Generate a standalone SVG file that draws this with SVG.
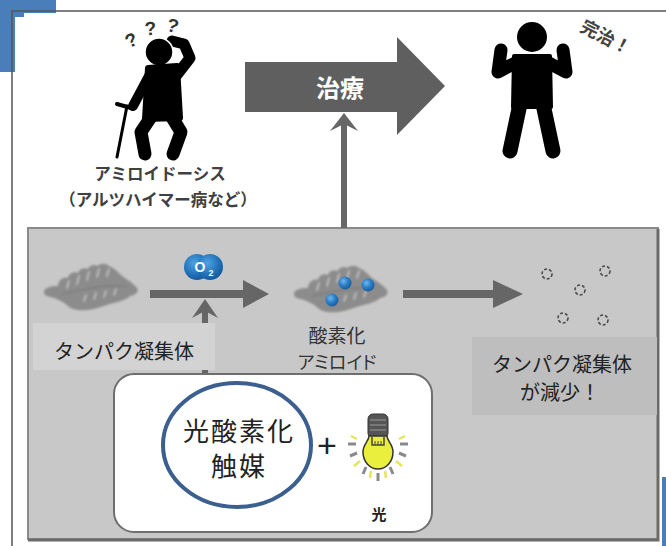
<svg xmlns="http://www.w3.org/2000/svg" width="666" height="546" viewBox="0 0 666 546">
  <style>
    .jp { font-family: "Noto Sans CJK JP", "Noto Sans", sans-serif; }
    .bold { font-weight: 700; }
    .label { fill: #404040; }
    .body { fill: #222; }
    .prop { font-feature-settings: "palt" 1; }
    .arrowline { stroke: #666; fill: none; }
    .arrowhead { fill: #666; }
    .fig { fill: #000; }
    .limb { stroke: #000; fill: none; stroke-linecap: round; stroke-linejoin: round; }
    .ray-g { stroke: #8a8a8a; stroke-width: 3; stroke-linecap: butt; }
    .ray-y { stroke: #e4e65a; stroke-width: 2.5; stroke-linecap: butt; }
    .dot { fill: none; stroke: #4a4a4a; stroke-width: 1.6; stroke-dasharray: 3 2; }
  </style>
  <defs>
    <filter id="soft" x="-10%" y="-10%" width="120%" height="120%">
      <feGaussianBlur stdDeviation="0.8"/>
    </filter>
    <radialGradient id="sphere" cx="0.38" cy="0.35" r="0.7">
      <stop offset="0" stop-color="#6fb8ee"/>
      <stop offset="0.5" stop-color="#2b7fc8"/>
      <stop offset="1" stop-color="#1a5894"/>
    </radialGradient>
    <radialGradient id="oxy" cx="0.4" cy="0.35" r="0.75">
      <stop offset="0" stop-color="#4fa2e2"/>
      <stop offset="0.6" stop-color="#2070b8"/>
      <stop offset="1" stop-color="#174f8a"/>
    </radialGradient>
    <!-- coiled protein aggregate -->
    <g id="fibril">
      <g filter="url(#soft)">
        <path d="M2,28 C2,23 10,22 16,22 C16,16 22,12 26,14 C27,9 32,7 36,9 C37,5 42,3 46,5 C47,1 53,0 56,2 C58,-1 64,-1 67,2 C72,4 76,8 80,12 C86,16 92,20 95,24 C97,28 94,31 88,32 C84,36 76,38 68,40 C60,42 54,45 46,46 C38,47 30,46 26,42 C22,38 14,34 8,33 C4,32 2,31 2,28 Z" fill="#8c8c8c"/>
        <g stroke="#c2c2c2" stroke-width="1.6" fill="none" stroke-linecap="round">
          <path d="M27,17 L25,24"/>
          <path d="M37,12 L35,20"/>
          <path d="M47,8 L45,16"/>
          <path d="M57,5 L55,13"/>
          <path d="M67,5 L65,12"/>
          <path d="M44,31 L42,37"/>
          <path d="M54,29 L52,35"/>
          <path d="M64,27 L62,33"/>
          <path d="M74,25 L72,31"/>
        </g>
        <g stroke="#7a7a7a" stroke-width="1.2" fill="none">
          <path d="M20,30 C40,26 60,20 84,22"/>
        </g>
      </g>
    </g>
  </defs>

  <!-- page frame with corner tabs -->
  <path d="M0,0 H56 V13 H24 V17 H15 V72 H0 Z" fill="#4a7ebb"/>
  <rect x="662" y="477" width="4" height="69" fill="#4a7ebb"/>
  <path d="M12,546 V11 H666" fill="none" stroke="#555" stroke-width="1.5"/>

  <!-- patient with amyloidosis -->
  <g id="patient">
    <path class="limb" stroke-width="11" d="M176,76 L190,58 L184,44 L172,41"/>
    <circle cx="159" cy="52" r="14" class="fig" stroke="#fff" stroke-width="1.5"/>
    <path class="fig" d="M148,68 L177,66 L180,118 L145,119 Z" stroke="#000" stroke-width="6" stroke-linejoin="round"/>
    <path class="limb" stroke-width="10" d="M149,76 L133,106"/>
    <path class="limb" stroke-width="13" d="M153,114 L141,132 L145,154"/>
    <path class="limb" stroke-width="13" d="M170,114 L181,132 L173,154"/>
    <path d="M127,106 L117,157" stroke="#000" stroke-width="3" stroke-linecap="round"/>
    <path d="M117,104 L131,108" stroke="#000" stroke-width="4" stroke-linecap="round"/>
    <g class="bold" font-family="Liberation Sans, sans-serif" font-size="19" fill="#333">
      <text transform="translate(134,46) rotate(-25)" text-anchor="middle">?</text>
      <text transform="translate(151,35) rotate(-5)" text-anchor="middle">?</text>
      <text transform="translate(171,32) rotate(15)" text-anchor="middle">?</text>
    </g>
    <text class="jp bold label" x="160" y="180" font-size="16.5" text-anchor="middle">アミロイドーシス</text>
    <text class="jp bold label" x="158" y="206" font-size="16.5" text-anchor="middle">（アルツハイマー病など）</text>
  </g>

  <!-- treatment arrow -->
  <g id="treatment">
    <path d="M245,62 H397 V37 L445,86 L397,135 V112 H245 Z" fill="#5f5f5f"/>
    <text class="jp bold" x="340" y="97" font-size="24" fill="#fff" text-anchor="middle">治療</text>
  </g>

  <!-- cured person -->
  <g id="cured">
    <circle cx="532" cy="37" r="15" class="fig"/>
    <path class="fig" d="M514,56 L550,56 L551,107 L513,107 Z" stroke="#000" stroke-width="4" stroke-linejoin="round"/>
    <path class="limb" stroke-width="13" d="M517,62 L498,72 L501,50"/>
    <path class="limb" stroke-width="13" d="M547,62 L566,72 L563,50"/>
    <path class="limb" stroke-width="15" d="M520,104 L510,151"/>
    <path class="limb" stroke-width="15" d="M543,104 L553,151"/>
    <text class="jp bold" transform="translate(603,43) rotate(27)" font-size="18" fill="#444" text-anchor="middle">完治！</text>
  </g>

  <!-- mechanism panel -->
  <g id="panel">
    <rect x="28" y="228" width="630" height="311" fill="#c8c8c8" stroke="#8a8a8a" stroke-width="2"/>
    <path d="M658,229 V540 H28" fill="none" stroke="#6a6a6a" stroke-width="3"/>
  </g>

  <!-- connectors -->
  <g id="connectors">
    <!-- panel up to treatment -->
    <path class="arrowline" stroke-width="6" d="M344,228 V120"/>
    <path class="arrowhead" d="M344,113 L358,131 L344,124 L330,131 Z"/>
    <!-- aggregate to oxygenated amyloid -->
    <path class="arrowline" stroke-width="8" d="M150,294 H246"/>
    <path class="arrowhead" d="M243,280 L269,294 L243,308 Z"/>
    <!-- catalyst up to reaction -->
    <path class="arrowline" stroke-width="6" d="M205,374 V306"/>
    <path class="arrowhead" d="M205,299 L218,318 L205,311 L192,318 Z"/>
    <!-- oxygenated amyloid to cleared -->
    <path class="arrowline" stroke-width="8" d="M403,294 H496"/>
    <path class="arrowhead" d="M493,280 L523,294 L493,308 Z"/>
  </g>

  <!-- protein aggregate -->
  <g id="aggregate">
    <use href="#fibril" transform="translate(42,264)"/>
    <rect x="33" y="323" width="182" height="47" fill="#d3d3d3"/>
    <text class="jp body" x="124" y="359" font-size="20" text-anchor="middle">タンパク凝集体</text>
  </g>

  <!-- oxygen molecule -->
  <g id="oxygen">
    <circle cx="197" cy="267" r="13" fill="url(#oxy)"/>
    <circle cx="210" cy="267" r="13" fill="url(#oxy)"/>
    <text font-family="Liberation Sans, sans-serif" font-weight="700" font-size="14" fill="#fff" x="200" y="272" text-anchor="middle">O</text>
    <text font-family="Liberation Sans, sans-serif" font-weight="700" font-size="9" fill="#fff" x="211" y="276" text-anchor="middle">2</text>
  </g>

  <!-- oxygenated amyloid -->
  <g id="oxygenated">
    <use href="#fibril" transform="translate(292,266)"/>
    <circle cx="345" cy="283" r="6.5" fill="url(#sphere)"/>
    <circle cx="368" cy="285" r="6.5" fill="url(#sphere)"/>
    <circle cx="332" cy="300" r="6.5" fill="url(#sphere)"/>
    <text class="jp" x="337" y="343" font-size="19" fill="#333" text-anchor="middle">酸素化</text>
    <text class="jp prop" x="337" y="369" font-size="18" fill="#333" text-anchor="middle">アミロイド</text>
  </g>

  <!-- reduced aggregate -->
  <g id="reduced">
    <circle class="dot" cx="547" cy="274" r="5"/>
    <circle class="dot" cx="605" cy="271" r="5"/>
    <circle class="dot" cx="580" cy="290" r="5"/>
    <circle class="dot" cx="563" cy="318" r="5"/>
    <circle class="dot" cx="603" cy="320" r="5"/>
    <rect x="472" y="337" width="185" height="78" fill="#bebebe"/>
    <text class="jp body" x="562" y="372" font-size="20" text-anchor="middle">タンパク凝集体</text>
    <text class="jp body" x="560" y="400" font-size="20" text-anchor="middle">が減少！</text>
  </g>

  <!-- photo-oxygenation catalyst with light -->
  <g id="catalyst">
    <rect x="114" y="374" width="318" height="158" rx="20" fill="#fff" stroke="#6e6e6e" stroke-width="2"/>
    <ellipse cx="237" cy="445" rx="74" ry="62" fill="none" stroke="#3b5f8e" stroke-width="4"/>
    <text class="jp body" x="239" y="441" font-size="26" letter-spacing="2" text-anchor="middle">光酸素化</text>
    <text class="jp body" x="239" y="476" font-size="26" letter-spacing="2" text-anchor="middle">触媒</text>
    <text font-family="Liberation Sans, sans-serif" font-size="34" fill="#222" x="327" y="457" text-anchor="middle">+</text>
  </g>

  <g id="light">
    <!-- rays -->
    <path class="ray-g" d="M348,444 H356"/>
    <path class="ray-y" d="M351,436 L357,439"/>
    <path class="ray-g" d="M350,456 L357,453"/>
    <path class="ray-y" d="M354,466 L360,461"/>
    <path class="ray-g" d="M363,474 L366,467"/>
    <path class="ray-y" d="M370,478 L371,471"/>
    <path class="ray-g" d="M378,481 V473"/>
    <path class="ray-y" d="M386,478 L385,471"/>
    <path class="ray-g" d="M393,474 L390,467"/>
    <path class="ray-y" d="M402,466 L396,461"/>
    <path class="ray-g" d="M406,456 L399,453"/>
    <path class="ray-g" d="M400,444 H408"/>
    <path class="ray-y" d="M405,436 L399,439"/>
    <!-- socket -->
    <rect x="368" y="414" width="20" height="24" rx="5" fill="#555" stroke="#333" stroke-width="1"/>
    <g stroke="#8e8e8e" stroke-width="1.2">
      <path d="M370,420 H386"/>
      <path d="M370,425 H386"/>
      <path d="M370,430 H386"/>
    </g>
    <!-- glass -->
    <path d="M369,436 C369,441 363,444 363,452 C363,462 370,469 378,469 C386,469 393,462 393,452 C393,444 387,441 387,436 Z" fill="#eaee3c" stroke="#333" stroke-width="1.5"/>
    <path d="M372,437 V445 H384 V437" fill="none" stroke="#444" stroke-width="1.5"/>
    <path d="M375,441 V445 M378,441 V445 M381,441 V445" stroke="#444" stroke-width="1"/>
    <text class="jp bold" x="379" y="520" font-size="15" fill="#222" text-anchor="middle">光</text>
  </g>
</svg>
